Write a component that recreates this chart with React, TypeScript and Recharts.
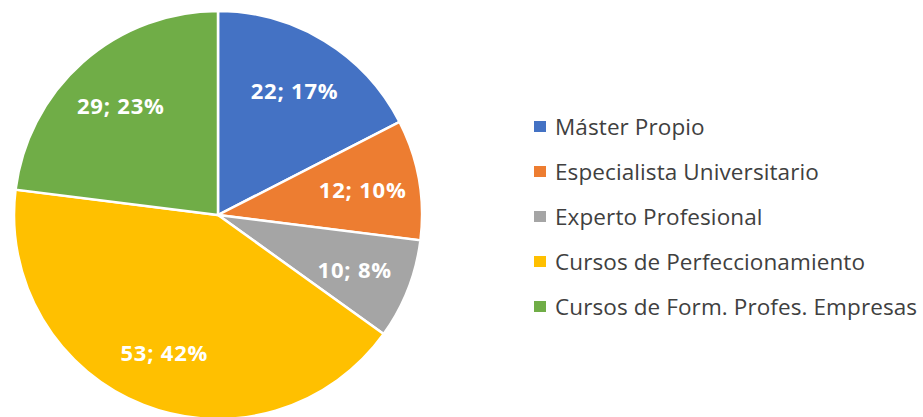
import React from "react";
import { PieChart, Pie, Cell } from "recharts";

const categories = [
  "Máster Propio",
  "Especialista Universitario",
  "Experto Profesional",
  "Cursos de Perfeccionamiento",
  "Cursos de Form. Profes. Empresas",
];
const values = [22, 12, 10, 53, 29];
const colors = ["#4472C4", "#ED7D31", "#A5A5A5", "#FFC000", "#70AD47"];

const data = categories.map((name, i) => ({ name, value: values[i] }));
const total = values.reduce((a, b) => a + b, 0);

const RAD = Math.PI / 180;

const renderLabel = (props: any) => {
  const { cx, cy, midAngle, outerRadius, value } = props;
  const r = outerRadius * 0.72;
  const x = cx + r * Math.cos(-midAngle * RAD);
  const y = cy + r * Math.sin(-midAngle * RAD);
  const pct = Math.round((value / total) * 100);
  return (
    <text
      x={x}
      y={y}
      fill="#ffffff"
      textAnchor="middle"
      dominantBaseline="central"
      fontFamily="'Open Sans', sans-serif"
      fontWeight={700}
      fontSize={22}
      letterSpacing={0.8}
    >
      {`${value}; ${pct}%`}
    </text>
  );
};

export default function App() {
  return (
    <div
      style={{
        position: "absolute",
        left: 0,
        top: 0,
        width: 923,
        height: 417,
        background: "#fff",
        overflow: "hidden",
      }}
    >
      <PieChart
        width={923}
        height={417}
        margin={{ top: 0, right: 0, bottom: 0, left: 0 }}
      >
        <Pie
          data={data}
          dataKey="value"
          nameKey="name"
          cx={218}
          cy={215}
          outerRadius={204}
          startAngle={90}
          endAngle={-270}
          stroke="#ffffff"
          strokeWidth={2.5}
          label={renderLabel}
          labelLine={false}
          isAnimationActive={false}
        >
          {data.map((d, i) => (
            <Cell key={d.name} fill={colors[i]} />
          ))}
        </Pie>
      </PieChart>
      <div
        style={{
          position: "absolute",
          left: 534,
          top: 104,
          fontFamily: "'Open Sans', sans-serif",
        }}
      >
        {data.map((d, i) => (
          <div
            key={d.name}
            style={{ display: "flex", alignItems: "center", height: 45 }}
          >
            <span
              style={{
                display: "inline-block",
                width: 12,
                height: 11,
                background: colors[i],
                marginRight: 9,
              }}
            />
            <span
              style={{
                fontSize: 22.5,
                letterSpacing: 0.1,
                color: "#404040",
                whiteSpace: "nowrap",
              }}
            >
              {d.name}
            </span>
          </div>
        ))}
      </div>
    </div>
  );
}
